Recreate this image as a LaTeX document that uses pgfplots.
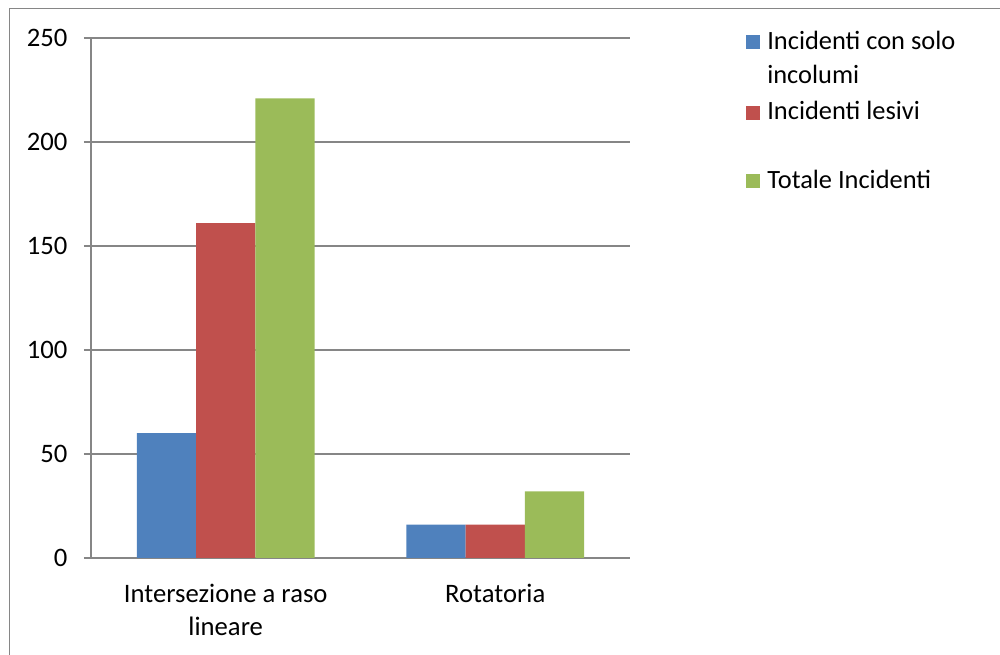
\documentclass[border=0pt]{standalone}
\usepackage{pgfplots}
\pgfplotsset{compat=1.18}
\usepackage{fontspec}
\setmainfont{Carlito}
\definecolor{cblue}{HTML}{4F81BD}
\definecolor{cred}{HTML}{C0504D}
\definecolor{cgreen}{HTML}{9BBB59}
\definecolor{axgray}{HTML}{868686}
\begin{document}
\begin{tikzpicture}
\useasboundingbox (0,0) rectangle (750pt,491.25pt);
\draw[axgray, line width=0.8pt] (6.9pt,-20pt) -- (6.9pt,484.75pt) -- (800pt,484.75pt);
\begin{axis}[
  at={(68.25pt,72.75pt)}, anchor=south west,
  scale only axis, width=404.25pt, height=390pt,
  xmin=-0.5, xmax=1.5, ymin=0, ymax=250,
  axis x line*=bottom, axis y line*=left,
  axis line style={axgray, line width=1pt},
  ytick={0,50,100,150,200,250},
  ymajorgrids, grid style={axgray, line width=0.9pt},
  xtick={0,1}, xticklabels={Intersezione a raso\\lineare, Rotatoria},
  major x tick style={draw=none},
  extra x ticks={-0.5,0.5,1.5}, extra x tick labels={},
  extra x tick style={major tick length=5.25pt, tick style={axgray, line width=1pt}, grid=none},
  tick align=outside,
  major tick length=5.25pt,
  y tick style={axgray, line width=1pt},
  yticklabel style={anchor=east, inner sep=0pt, xshift=-12.2pt, font=\fontsize{20}{25}\selectfont},
  xticklabel style={anchor=north, inner sep=0pt, yshift=-14pt, align=center, font=\fontsize{20}{25}\selectfont},
  /pgf/number format/assume math mode=true,
  ybar, bar width=0.22,
  legend cell align=left,
  legend style={at={(1.2152,1.0167)}, anchor=north west, draw=none, fill=none,
    inner sep=0pt, outer sep=0pt, row sep=0pt, column sep=5.3pt,
    font=\fontsize{19.8}{25.5}\selectfont,
    nodes={inner sep=0pt, outer sep=0pt},
    cells={anchor=base west}},
  legend image code/.code={\fill[#1] (0pt,0pt) rectangle (10.7pt,10.7pt);},
]
\addplot[fill=cblue, draw=none, bar shift=-0.22] coordinates {(0,60) (1,16)};
\addlegendentry[text height=15pt, text depth=31.5pt]{\parbox[t]{6cm}{Incidenti con solo\\incolumi}}
\addplot[fill=cred, draw=none, bar shift=0] coordinates {(0,161) (1,16)};
\addlegendentry[text height=21.5pt, text depth=36.2pt]{Incidenti lesivi}
\addplot[fill=cgreen, draw=none, bar shift=0.22] coordinates {(0,221) (1,32)};
\addlegendentry[text height=15pt, text depth=6pt]{Totale Incidenti}
\end{axis}
\end{tikzpicture}
\end{document}
